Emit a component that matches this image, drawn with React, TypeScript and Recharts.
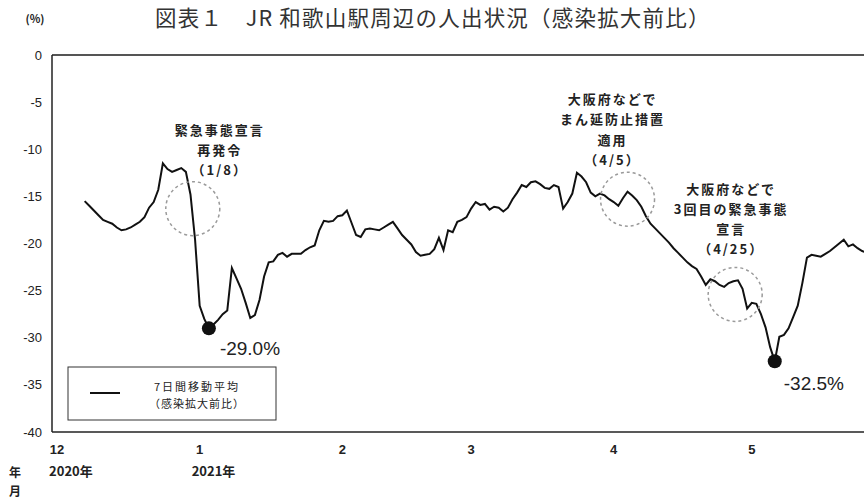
import { LineChart, Line, XAxis, YAxis, ReferenceDot, ReferenceLine } from "recharts";

// Days are counted from 2020-12-01 (day 0); the series starts on 12/7.
const firstDay = 6;

const movingAverage = [
  -15.5, -16.0, -16.5, -17.0, -17.5, -17.7, -17.9, -18.3, -18.6, -18.5,
  -18.3, -18.0, -17.7, -17.2, -16.2, -15.6, -14.3, -11.5, -12.1, -12.4,
  -12.2, -12.0, -12.4, -14.8, -19.6, -26.6, -28.0, -29.0, -28.6, -28.1,
  -27.5, -27.1, -22.6, -23.7, -24.8, -26.3, -27.9, -27.6, -26.0, -23.5,
  -22.0, -21.9, -21.2, -21.0, -21.4, -21.1, -21.1, -21.1, -20.7, -20.4,
  -20.2, -18.6, -17.6, -17.7, -17.6, -17.1, -17.0, -16.5, -17.8, -19.1,
  -19.3, -18.5, -18.4, -18.5, -18.6, -18.3, -18.0, -17.7, -18.4, -19.1,
  -19.6, -20.1, -20.9, -21.3, -21.2, -21.1, -20.6, -19.4, -20.7, -18.6,
  -18.8, -17.7, -17.5, -17.2, -16.3, -15.6, -15.9, -15.8, -16.4, -16.1,
  -16.2, -16.6, -16.2, -15.3, -14.6, -13.8, -14.0, -13.5, -13.4, -13.7,
  -14.1, -14.2, -13.8, -14.0, -16.3, -15.6, -14.7, -12.5, -12.9, -13.5,
  -14.6, -15.0, -14.7, -14.9, -15.3, -15.6, -16.0, -15.2, -14.5, -14.9,
  -15.4, -16.1, -17.1, -17.9, -18.4, -18.9, -19.4, -19.9, -20.5, -21.0,
  -21.5, -22.0, -22.4, -22.7, -23.5, -24.4, -23.8, -24.0, -24.4, -24.6,
  -24.2, -24.0, -23.9, -24.8, -26.9, -26.3, -26.4, -27.5, -28.9, -31.0,
  -32.5, -29.9, -29.7, -29.0, -27.8, -26.6, -24.2, -21.5, -21.2, -21.3,
  -21.4, -21.1, -20.8, -20.4, -20.0, -19.6, -20.3, -20.1, -20.5, -20.8,
  -21.0,
];

const monthTicks = [0, 31, 62, 90, 121, 151];
const monthLabels = ["12", "1", "2", "3", "4", "5"];
const yearLabels = ["2020年", "2021年", "", "", "", ""];
const valueTicks = [0, -5, -10, -15, -20, -25, -30, -35, -40];

const lowDays = [33, 156];
const lowValues = [-29.0, -32.5];

const eventDays = [29.5, 124, 147.4];
const eventValues = [-16.3, -15.3, -25.4];
const eventTexts = [
  ["緊急事態宣言", "再発令", "（1/8）"],
  ["大阪府などで", "まん延防止措置", "適用", "（4/5）"],
  ["大阪府などで", "3回目の緊急事態", "宣言", "（4/25）"],
];

const data = movingAverage.map((value, i) => ({ day: firstDay + i, value }));

const jpFont = "'Noto Sans CJK JP', sans-serif";
const numFont = "'Liberation Sans', Arial, sans-serif";

// offsets of each annotation block from the centre of its dashed circle
const eventTextDx = [27, -15, -4];
const eventTextDy = [-79, -101, -106];
const eventLineGap = [20, 20.5, 20];

function MonthTick(props: any) {
  const { x, y, payload } = props;
  const i = monthTicks.indexOf(payload.value);
  return (
    <g>
      <text x={x} y={y + 9} textAnchor="middle" dominantBaseline="central" fontSize={13} fontWeight="bold" fontFamily={numFont} fill="#222">
        {monthLabels[i]}
      </text>
      {yearLabels[i] && (
        <text x={x - 8} y={y + 30} textAnchor="start" dominantBaseline="central" fontSize={13} fontWeight="bold" fontFamily={jpFont} fill="#222">
          {yearLabels[i]}
        </text>
      )}
    </g>
  );
}

function eventShape(index: number) {
  return (props: any) => {
    const { cx, cy, r } = props;
    return (
      <g>
        <circle cx={cx} cy={cy} r={r} fill="none" stroke="#9a9a9a" strokeWidth={1.5} strokeDasharray="3 3" />
        {eventTexts[index].map((line, k) => (
          <text
            key={k}
            x={cx + eventTextDx[index]}
            y={cy + eventTextDy[index] + k * eventLineGap[index]}
            textAnchor="middle"
            dominantBaseline="central"
            fontSize={13}
            fontWeight="bold"
            letterSpacing={2}
            fontFamily={jpFont}
            fill="#222"
          >
            {line}
          </text>
        ))}
      </g>
    );
  };
}

function lowShape(value: number, dx: number, dy: number) {
  return (props: any) => {
    const { cx, cy } = props;
    return (
      <g>
        <circle cx={cx} cy={cy} r={7} fill="#111" />
        <text x={cx + dx} y={cy + dy} dominantBaseline="central" fontSize={19} fontFamily={numFont} fill="#222">
          {value.toFixed(1)}%
        </text>
      </g>
    );
  };
}

export default function App() {
  return (
    <div style={{ position: "absolute", left: 0, top: 0, width: 864, height: 499, overflow: "hidden", background: "#fff" }}>
      <LineChart width={864} height={499} data={data} margin={{ top: 55, right: 0, bottom: 37, left: 0 }}>
        <XAxis
          type="number"
          dataKey="day"
          domain={[-1.1, 175.4]}
          allowDataOverflow
          ticks={monthTicks}
          tick={<MonthTick />}
          tickLine={false}
          height={30}
          axisLine={{ stroke: "#222", strokeWidth: 1.5 }}
        />
        <YAxis
          type="number"
          domain={[-40, 0]}
          ticks={valueTicks}
          width={52}
          tickLine={false}
          tickMargin={4}
          axisLine={{ stroke: "#222", strokeWidth: 1.5 }}
          tick={{ fontSize: 13, fill: "#222", fontFamily: numFont }}
        />
        <ReferenceLine y={0} stroke="#555" strokeWidth={2} />
        {eventDays.map((d, i) => (
          <ReferenceDot key={"ev" + i} x={d} y={eventValues[i]} r={27} shape={eventShape(i)} />
        ))}
        <Line type="linear" dataKey="value" stroke="#111" strokeWidth={2} dot={false} isAnimationActive={false} />
        <ReferenceDot x={lowDays[0]} y={lowValues[0]} r={7} shape={lowShape(lowValues[0], 11, 20)} />
        <ReferenceDot x={lowDays[1]} y={lowValues[1]} r={7} shape={lowShape(lowValues[1], 9, 22)} />
      </LineChart>
      <svg width={864} height={499} style={{ position: "absolute", left: 0, top: 0, pointerEvents: "none" }}>
        <text x={155} y={25.5} fontSize={21.5} letterSpacing={1.2} fontFamily={jpFont} fill="#333">
          図表１　JR 和歌山駅周辺の人出状況（感染拡大前比）
        </text>
        <text x={35} y={18} textAnchor="middle" dominantBaseline="central" fontSize={11} fontWeight="bold" fontFamily={jpFont} fill="#222">
          (%)
        </text>
        <text x={15} y={471} textAnchor="middle" dominantBaseline="central" fontSize={12} fontWeight="bold" fontFamily={jpFont} fill="#222">
          年
        </text>
        <text x={15} y={490} textAnchor="middle" dominantBaseline="central" fontSize={12} fontWeight="bold" fontFamily={jpFont} fill="#222">
          月
        </text>
        <rect x={68} y={367} width={208} height={53} fill="#fff" stroke="#333" strokeWidth={1} />
        <line x1={90} x2={120} y1={393} y2={393} stroke="#111" strokeWidth={2} />
        <text x={197} y={386} textAnchor="middle" dominantBaseline="central" fontSize={11} letterSpacing={2} fontFamily={jpFont} fill="#222">
          7日間移動平均
        </text>
        <text x={197} y={403} textAnchor="middle" dominantBaseline="central" fontSize={11} letterSpacing={1} fontFamily={jpFont} fill="#222">
          （感染拡大前比）
        </text>
      </svg>
    </div>
  );
}
